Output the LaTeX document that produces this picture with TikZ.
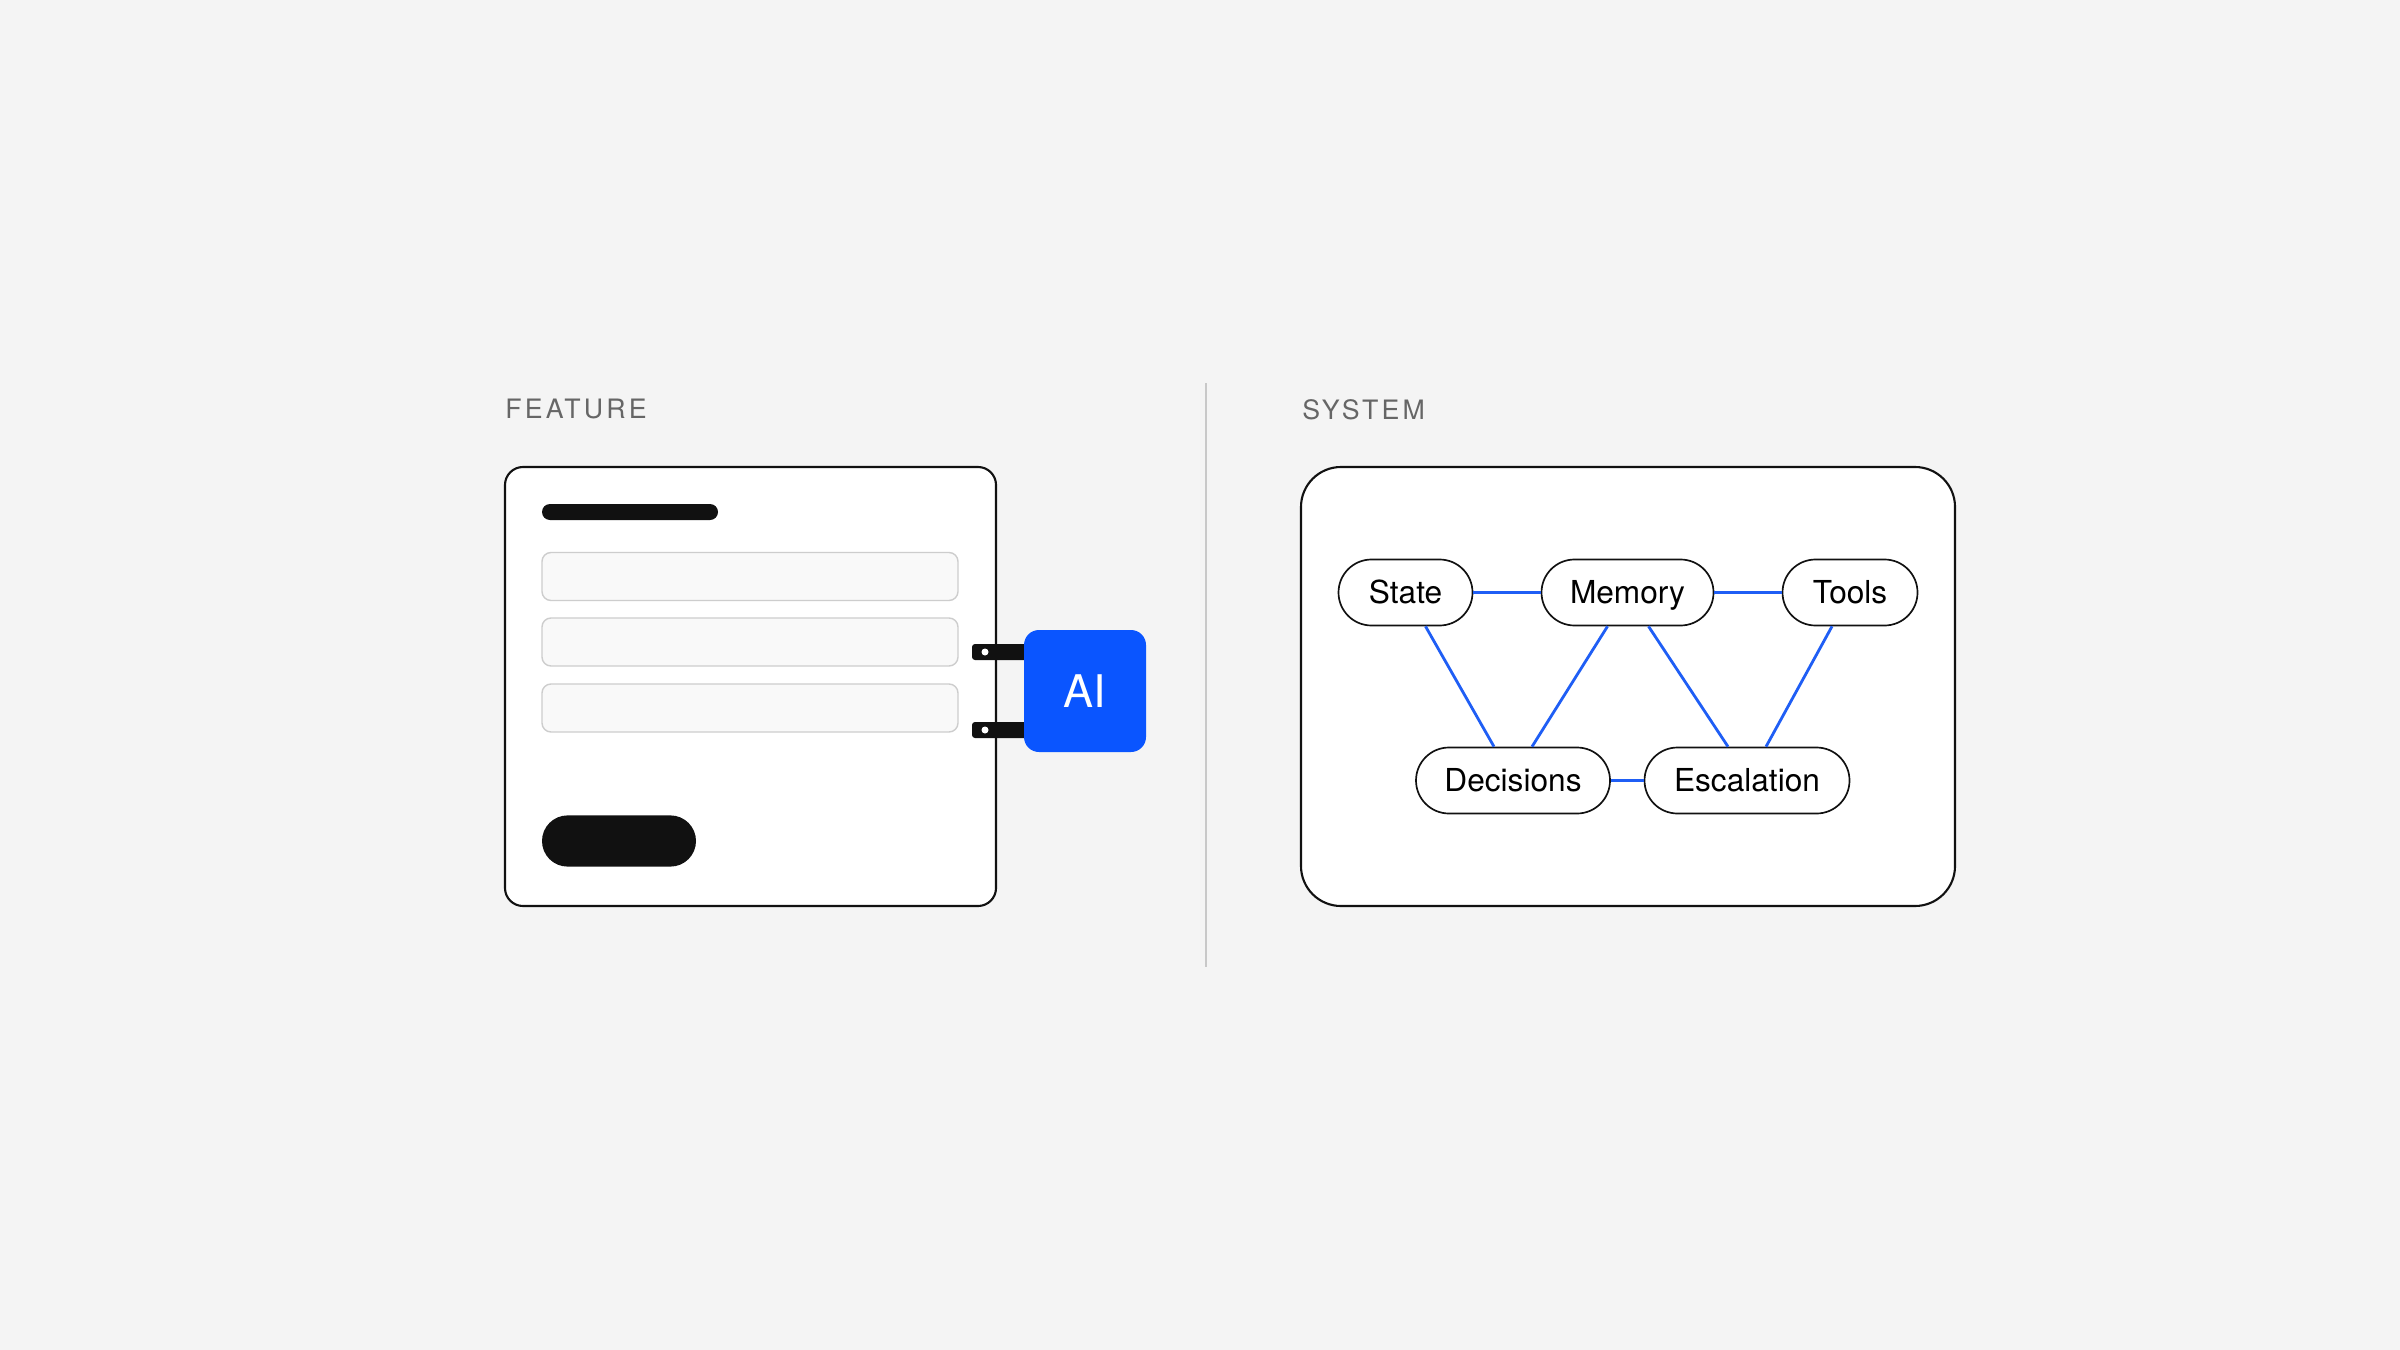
\documentclass[tikz,border=0pt]{standalone}
\usepackage{fontspec}
\setmainfont{TeX Gyre Heros}
\usetikzlibrary{calc}
\definecolor{bg}{HTML}{F4F4F4}
\definecolor{aiblue}{HTML}{0A55FF}
\definecolor{edgeblue}{HTML}{1F5EF5}
\definecolor{ink}{HTML}{111111}
\definecolor{labelgray}{HTML}{666666}
\definecolor{fieldfill}{HTML}{F9F9F9}
\definecolor{fieldline}{HTML}{CDCDCD}
\definecolor{divider}{HTML}{C8C8C8}
\begin{document}
\begin{tikzpicture}[x=0.25mm,y=-0.25mm,
  panel/.style={draw=ink, line width=1.5pt, fill=white, inner sep=0pt},
  field/.style={draw=fieldline, line width=1pt, fill=fieldfill, rounded corners=2.25mm, inner sep=0pt, minimum width=104mm, minimum height=12mm},
  pill/.style={draw=ink, line width=1.2pt, fill=white, rounded corners=8.25mm, minimum height=16.5mm, inner sep=0pt, text height=16.2pt, text depth=0pt, font=\fontsize{22.5}{27}\selectfont},
  link/.style={draw=edgeblue, line width=2pt},
  sectionlabel/.style={anchor=west, inner sep=0pt, text=labelgray, font=\fontsize{19}{22}\selectfont\addfontfeatures{LetterSpace=12}},
  tab/.style={fill=ink, rounded corners=0.75mm}
]
\fill[bg] (0,0) rectangle (2400,1350);
\useasboundingbox (0,0) rectangle (2400,1350);

% section labels
\node[sectionlabel] (featlabel) at (505,409.5) {FEATURE};
\node[sectionlabel] (syslabel) at (1302,409.5) {SYSTEM};

% divider
\draw[divider, line width=0.8pt] (1206,383) -- (1206,967);

% feature panel
\node[panel, rounded corners=4.5mm, minimum width=122.75mm, minimum height=109.75mm] (feature) at (750.5,686.5) {};
\node[fill=ink, rounded corners=2mm, inner sep=0pt, minimum width=44mm, minimum height=4mm] (titlebar) at (630,512) {};
\node[field] (field1) at (750,576.5) {};
\node[field] (field2) at (750,642) {};
\node[field] (field3) at (750,708) {};
\node[fill=ink, rounded corners=6.4mm, inner sep=0pt, minimum width=38.5mm, minimum height=12.8mm] (button) at (619,841) {};

% tabs (connectors to AI)
\fill[tab] (972,644) rectangle (1032,660);
\fill[tab] (972,722) rectangle (1032,738);
\fill[white] (985,652) circle (3.5);
\fill[white] (985,730) circle (3.5);

% AI block
\node[fill=aiblue, rounded corners=3.75mm, minimum width=30.5mm, minimum height=30.5mm, inner sep=0pt, text=white, text height=23pt, text depth=0pt, font=\fontsize{32}{36}\selectfont] (ai) at (1085,691) {AI};

% system panel
\node[panel, rounded corners=10mm, minimum width=163.5mm, minimum height=109.75mm] (system) at (1628,686.5) {};

\node[pill, minimum width=33.5mm] (state) at (1405.5,592.5) {State};
\node[pill, minimum width=43mm] (memory) at (1627.5,592.5) {Memory};
\node[pill, minimum width=33.75mm] (tools) at (1850,592.5) {Tools};
\node[pill, minimum width=48.5mm] (decisions) at (1513,780.5) {Decisions};
\node[pill, minimum width=51.25mm] (escalation) at (1747,780.5) {Escalation};

\draw[link] (state.east) -- (memory.west);
\draw[link] (memory.east) -- (tools.west);
\draw[link] (decisions.east) -- (escalation.west);
\draw[link] ($(state.south)+(20,0)$) -- ($(decisions.north)+(-19,0)$);
\draw[link] ($(memory.south)+(-20,0)$) -- ($(decisions.north)+(19,0)$);
\draw[link] ($(memory.south)+(21,0)$) -- ($(escalation.north)+(-19,0)$);
\draw[link] ($(tools.south)+(-18,0)$) -- ($(escalation.north)+(19,0)$);
\end{tikzpicture}
\end{document}
